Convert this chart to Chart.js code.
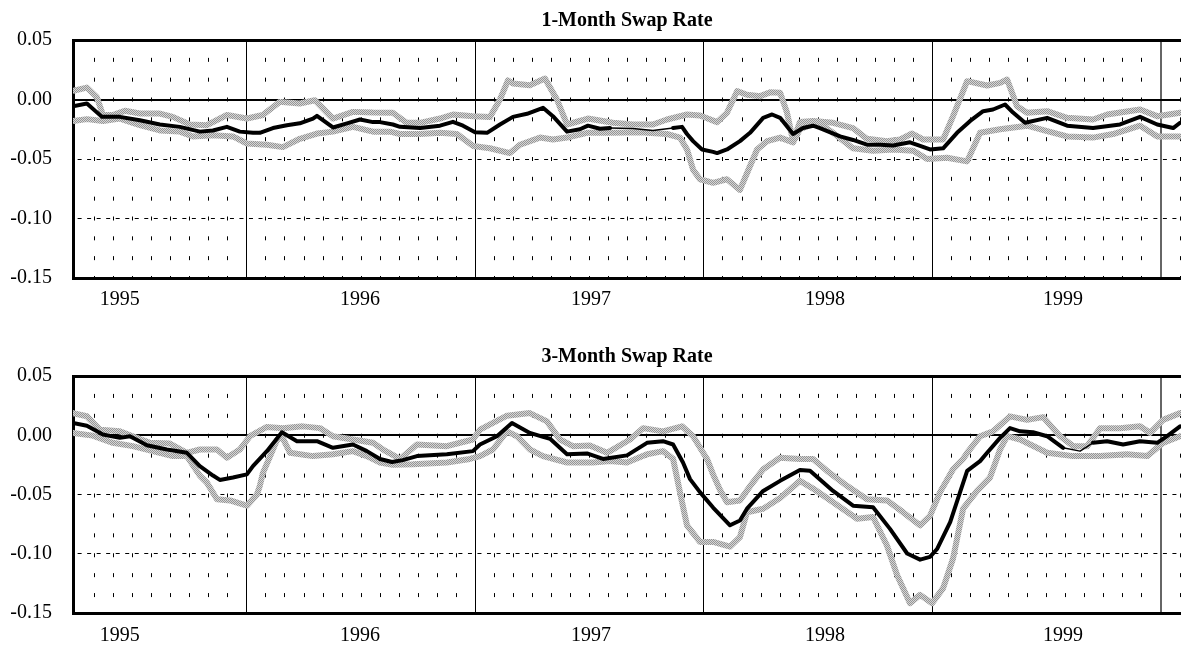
<!DOCTYPE html>
<html>
<head>
<meta charset="utf-8">
<script src="https://cdn.jsdelivr.net/npm/chart.js@4.4.0/dist/chart.umd.min.js"></script>
<style>
  html, body { margin: 0; padding: 0; background: #fff; }
  #wrap { position: relative; width: 1181px; height: 646px; }
  canvas { position: absolute; left: 0; }
  #c1 { top: 0; }
  #c2 { top: 336px; }
</style>
</head>
<body>
<div id="wrap">
  <canvas id="c1" width="1181" height="336"></canvas>
  <canvas id="c2" width="1181" height="310"></canvas>
</div>
<script>
// x values are months counted from Jan 1995 (12 = Jan 1996, 24 = Jan 1997 ...)
const xMin = 2.87;
const xMax = 61.05;
const yearLines = [12, 24, 36, 48, 60];
const yearLabels = ['1995', '1996', '1997', '1998', '1999'];
const yearLabelPos = [5.33, 17.94, 30.07, 42.36, 54.86];
const yTicks = [-0.15, -0.10, -0.05, 0, 0.05];

// ---- 1-Month Swap Rate ----
const oneMidX = [2.87, 3.60, 4.39, 5.33, 6.38, 7.43, 8.48, 9.53, 10.22, 10.95, 11.63, 12.32, 12.68, 13.37, 14.10, 14.78, 15.47, 15.68, 16.52, 17.26, 17.94, 18.62, 18.99, 19.67, 20.04, 21.09, 22.14, 22.82, 23.35, 23.98, 24.61, 25.29, 25.97, 26.71, 27.55, 28.07, 28.81, 29.49, 29.91, 30.54, 31.07, 32.27, 33.32, 34.38, 34.85, 35.11, 35.43, 35.90, 36.48, 36.69, 37.21, 37.89, 38.42, 39.11, 39.58, 40.00, 40.68, 41.20, 41.73, 42.09, 43.15, 43.83, 44.56, 45.25, 45.93, 46.82, 47.35, 47.87, 48.56, 49.29, 49.98, 50.66, 51.18, 51.81, 52.23, 52.86, 54.02, 55.07, 56.43, 57.85, 58.90, 59.80, 60.64, 61.00];
const oneMidY = [-0.0056, -0.0034, -0.0146, -0.0146, -0.0174, -0.021, -0.023, -0.027, -0.026, -0.023, -0.027, -0.028, -0.028, -0.024, -0.0216, -0.020, -0.016, -0.0137, -0.0235, -0.020, -0.0168, -0.019, -0.019, -0.021, -0.023, -0.024, -0.022, -0.0188, -0.022, -0.0275, -0.028, -0.021, -0.0146, -0.012, -0.007, -0.014, -0.027, -0.025, -0.022, -0.0246, -0.024, -0.0244, -0.026, -0.024, -0.023, -0.029, -0.035, -0.042, -0.044, -0.045, -0.042, -0.035, -0.028, -0.0154, -0.0126, -0.0154, -0.029, -0.024, -0.022, -0.024, -0.031, -0.034, -0.038, -0.038, -0.0387, -0.036, -0.039, -0.042, -0.041, -0.028, -0.018, -0.0098, -0.0084, -0.0042, -0.011, -0.0196, -0.0154, -0.022, -0.024, -0.021, -0.0146, -0.021, -0.024, -0.0196];

const oneUpX = [2.87, 3.60, 4.12, 4.44, 4.96, 5.59, 6.38, 7.43, 8.11, 9.01, 9.90, 10.95, 12.00, 12.84, 13.73, 14.78, 15.57, 16.52, 17.57, 18.62, 19.67, 20.40, 21.09, 22.14, 22.82, 23.87, 24.76, 25.29, 25.71, 25.97, 26.86, 27.65, 28.28, 28.81, 29.91, 31.22, 32.27, 33.32, 34.06, 35.11, 35.79, 36.69, 37.21, 37.74, 38.26, 38.95, 39.47, 40.00, 40.36, 40.68, 41.04, 41.73, 42.78, 43.83, 44.56, 45.61, 46.30, 46.93, 47.51, 48.56, 49.08, 49.82, 50.87, 51.55, 51.92, 52.44, 52.97, 54.02, 55.07, 56.43, 57.17, 58.90, 59.80, 61.00];
const oneUpY = [0.0073, 0.010, 0.002, -0.013, -0.013, -0.0095, -0.0118, -0.0118, -0.0146, -0.021, -0.0216, -0.013, -0.016, -0.013, -0.002, -0.0034, -0.0006, -0.016, -0.0104, -0.011, -0.0112, -0.0196, -0.0196, -0.016, -0.0126, -0.014, -0.0148, 0, 0.016, 0.0134, 0.012, 0.0176, 0, -0.021, -0.016, -0.0196, -0.021, -0.021, -0.0168, -0.0126, -0.0134, -0.019, -0.0112, 0.007, 0.004, 0.0028, 0.006, 0.0056, -0.011, -0.035, -0.019, -0.018, -0.0196, -0.024, -0.033, -0.035, -0.0336, -0.0286, -0.0336, -0.0336, -0.014, 0.0154, 0.0118, 0.014, 0.0168, -0.0056, -0.0112, -0.0098, -0.0154, -0.0168, -0.0126, -0.0084, -0.014, -0.0112];

const oneLoX = [2.87, 3.60, 4.44, 5.33, 6.38, 7.43, 8.48, 9.16, 10.22, 11.27, 12.00, 13.05, 13.89, 14.78, 15.68, 16.52, 17.57, 18.62, 19.51, 20.04, 21.09, 22.14, 23.03, 23.87, 24.76, 25.81, 26.34, 27.39, 28.07, 28.81, 29.86, 31.22, 32.64, 34.06, 34.74, 35.11, 35.43, 35.79, 36.48, 37.21, 37.89, 38.26, 38.79, 39.32, 40.00, 40.68, 41.04, 41.94, 42.78, 43.83, 44.88, 45.93, 46.98, 47.72, 48.77, 49.82, 50.50, 51.55, 52.97, 54.02, 55.07, 56.43, 57.48, 58.90, 59.80, 61.00];
const oneLoY = [-0.018, -0.0165, -0.018, -0.016, -0.0216, -0.026, -0.027, -0.031, -0.030, -0.031, -0.037, -0.038, -0.040, -0.033, -0.0286, -0.027, -0.023, -0.027, -0.027, -0.029, -0.029, -0.028, -0.029, -0.039, -0.041, -0.045, -0.038, -0.032, -0.0336, -0.032, -0.028, -0.028, -0.0275, -0.029, -0.032, -0.042, -0.059, -0.067, -0.070, -0.067, -0.076, -0.062, -0.042, -0.035, -0.032, -0.036, -0.025, -0.019, -0.028, -0.041, -0.043, -0.042, -0.043, -0.050, -0.049, -0.052, -0.028, -0.025, -0.022, -0.0266, -0.031, -0.032, -0.029, -0.022, -0.031, -0.031];

// ---- 3-Month Swap Rate ----
const threeMidX = [2.87, 3.60, 4.44, 5.33, 5.86, 6.75, 7.80, 8.85, 9.53, 10.22, 10.58, 11.27, 12.00, 12.32, 13.05, 13.84, 14.63, 15.68, 16.52, 17.57, 18.30, 18.99, 19.62, 20.19, 20.93, 22.50, 23.87, 24.24, 25.13, 25.92, 26.86, 27.55, 27.92, 28.81, 29.86, 30.70, 31.96, 33.01, 33.85, 34.38, 34.90, 35.27, 35.79, 36.48, 37.37, 37.89, 38.26, 39.11, 40.00, 41.04, 41.57, 42.78, 43.83, 44.88, 45.77, 46.67, 47.35, 47.87, 48.24, 48.93, 49.45, 49.82, 50.50, 50.87, 51.55, 52.07, 52.60, 53.28, 54.02, 54.86, 55.75, 56.43, 57.17, 58.01, 58.90, 59.80, 60.32, 61.00];
const threeMidY = [0.0103, 0.008, 0.0006, -0.0022, -0.0008, -0.0084, -0.012, -0.0148, -0.026, -0.034, -0.0377, -0.0357, -0.033, -0.026, -0.0134, 0.0025, -0.005, -0.005, -0.0106, -0.0078, -0.0134, -0.020, -0.0226, -0.021, -0.0176, -0.016, -0.0134, -0.0078, -0.0008, 0.0103, 0.002, -0.0014, -0.003, -0.016, -0.0153, -0.020, -0.017, -0.0064, -0.005, -0.0078, -0.023, -0.037, -0.048, -0.061, -0.076, -0.072, -0.062, -0.047, -0.0385, -0.0293, -0.030, -0.047, -0.0594, -0.0608, -0.079, -0.0998, -0.105, -0.1026, -0.096, -0.0733, -0.048, -0.030, -0.0218, -0.0148, -0.0022, 0.006, 0.0033, 0.0025, -0.0008, -0.0106, -0.0134, -0.0064, -0.005, -0.0078, -0.005, -0.0064, -0.0008, 0.0075];

const threeUpX = [2.87, 3.60, 4.28, 5.33, 6.01, 6.91, 7.96, 8.85, 9.53, 10.43, 10.95, 11.63, 12.16, 13.05, 13.89, 14.94, 15.84, 16.52, 17.57, 18.62, 19.25, 20.04, 20.93, 22.50, 23.87, 24.24, 25.66, 26.86, 27.76, 28.44, 29.12, 30.01, 30.91, 32.12, 32.80, 33.85, 34.85, 35.43, 36.16, 36.48, 36.84, 37.21, 37.89, 38.42, 39.11, 40.00, 41.04, 41.73, 42.46, 43.51, 44.56, 45.61, 46.46, 47.35, 47.87, 48.40, 49.08, 49.61, 49.82, 50.50, 51.18, 52.07, 52.97, 53.81, 54.70, 55.39, 56.12, 56.80, 57.85, 58.90, 59.43, 60.11, 61.00];
const threeUpY = [0.0187, 0.016, 0.0047, 0.0033, -0.0008, -0.0064, -0.007, -0.0148, -0.012, -0.012, -0.019, -0.012, -0.0008, 0.007, 0.006, 0.0075, 0.006, -0.0008, -0.0036, -0.0064, -0.013, -0.020, -0.0078, -0.0092, -0.0036, 0.0047, 0.0165, 0.0187, 0.0117, -0.0036, -0.0092, -0.0086, -0.0148, -0.0036, 0.006, 0.0033, 0.0075, -0.0008, -0.020, -0.033, -0.046, -0.0566, -0.055, -0.043, -0.0287, -0.019, -0.020, -0.020, -0.030, -0.0427, -0.054, -0.055, -0.065, -0.076, -0.068, -0.048, -0.0287, -0.020, -0.0148, -0.0008, 0.0033, 0.0159, 0.013, 0.0153, -0.0008, -0.0092, -0.0092, 0.006, 0.006, 0.0075, 0.002, 0.013, 0.0187];

const threeLoX = [2.87, 3.91, 4.96, 6.01, 7.06, 8.11, 8.85, 9.53, 9.90, 10.43, 11.11, 12.00, 12.53, 12.68, 12.84, 13.58, 13.84, 14.26, 15.47, 16.52, 17.57, 18.30, 18.99, 19.67, 20.72, 22.50, 23.71, 24.24, 24.92, 25.66, 26.18, 26.86, 27.55, 28.81, 30.17, 31.07, 31.96, 33.01, 33.85, 34.38, 34.74, 35.11, 35.79, 36.48, 37.37, 37.89, 38.26, 39.11, 40.00, 41.04, 41.73, 42.78, 44.04, 44.88, 45.61, 46.14, 46.82, 47.35, 47.98, 48.56, 49.08, 49.61, 50.34, 51.02, 51.55, 51.92, 52.60, 54.02, 55.39, 56.80, 58.22, 59.27, 60.11, 61.00];
const threeLoY = [0.002, -0.0003, -0.0064, -0.0092, -0.0134, -0.0176, -0.0176, -0.034, -0.040, -0.054, -0.055, -0.0594, -0.050, -0.0427, -0.032, -0.004, -0.001, -0.0148, -0.0176, -0.016, -0.0134, -0.0176, -0.023, -0.025, -0.0245, -0.023, -0.020, -0.0176, -0.012, 0.0033, -0.0008, -0.012, -0.0176, -0.023, -0.023, -0.0218, -0.023, -0.016, -0.0134, -0.020, -0.048, -0.076, -0.090, -0.090, -0.094, -0.086, -0.065, -0.062, -0.053, -0.0385, -0.045, -0.0566, -0.0705, -0.069, -0.093, -0.118, -0.1417, -0.1347, -0.1417, -0.129, -0.104, -0.062, -0.047, -0.0357, -0.012, -0.0008, -0.0036, -0.0148, -0.0176, -0.0176, -0.016, -0.0176, -0.0064, -0.0008];

// stretches where the black line is only drawn thin in the original
const oneThin = [[31.07, 34.38]];
const threeThin = [[54.86, 56.43]];

// ==================================
const serif = 'Liberation Serif';

function pts(xs, ys) {
  return xs.map((x, i) => ({ x: x, y: ys[i] }));
}

// monthly dotted grid (no mark before the first full month of the plot)
function monthTicks() {
  const t = [];
  for (let m = 4; m <= 61; m++) {
    if (m % 12 !== 0) t.push({ value: m });
  }
  return t;
}

// speckled grey like the printed bands
function greyPattern(ctx) {
  const p = document.createElement('canvas');
  p.width = 2;
  p.height = 2;
  const pc = p.getContext('2d');
  pc.fillStyle = '#d6d6d6';
  pc.fillRect(0, 0, 2, 2);
  pc.fillStyle = '#959595';
  pc.fillRect(0, 0, 1, 1);
  pc.fillRect(1, 1, 1, 1);
  return ctx.createPattern(p, 'repeat');
}

function makeChart(id, title, mid, up, lo, thin, bottomSpace, labelPad, rowGap) {
  const ctx = document.getElementById(id).getContext('2d');
  const grey = greyPattern(ctx);

  return new Chart(ctx, {
    type: 'line',
    data: {
      datasets: [
        {
          data: pts(mid[0], mid[1]),
          borderColor: '#000',
          borderWidth: 4,
          xAxisID: 'x',
          yAxisID: 'y',
          segment: {
            borderWidth: c =>
              thin.some(r => c.p0.parsed.x >= r[0] && c.p1.parsed.x <= r[1]) ? 1.5 : undefined,
          },
        },
        { data: pts(up[0], up[1]), borderColor: grey, borderWidth: 6, xAxisID: 'x', yAxisID: 'y' },
        { data: pts(lo[0], lo[1]), borderColor: grey, borderWidth: 6, xAxisID: 'x', yAxisID: 'y' },
      ],
    },
    options: {
      responsive: false,
      animation: false,
      devicePixelRatio: 1,
      layout: { padding: 0 },
      elements: {
        point: { radius: 0 },
        line: { tension: 0, borderJoinStyle: 'round', borderCapStyle: 'round' },
      },
      plugins: {
        legend: { display: false },
        tooltip: { enabled: false },
        title: {
          display: true,
          text: title,
          fullSize: false,
          color: '#000',
          font: { family: serif, size: 20, weight: 'bold' },
          padding: { top: 9, bottom: 7 },
        },
      },
      scales: {
        // monthly dotted grid + bottom axis line
        x: {
          type: 'linear',
          position: 'bottom',
          min: xMin,
          max: xMax,
          weight: 0,
          afterBuildTicks: s => { s.ticks = monthTicks(); },
          afterFit: s => { s.height = 0; },
          ticks: { display: false },
          grid: { color: '#000', lineWidth: 1, drawTicks: false },
          border: { display: true, color: '#000', width: 3, dash: [4, rowGap - 4], dashOffset: 2 },
        },
        // solid year separators
        xYear: {
          type: 'linear',
          position: 'bottom',
          min: xMin,
          max: xMax,
          weight: 1,
          afterBuildTicks: s => { s.ticks = yearLines.map(v => ({ value: v })); },
          afterFit: s => { s.height = 0; },
          ticks: { display: false },
          grid: {
            color: c => (c.tick && c.tick.value === 60 ? '#666' : '#000'),
            lineWidth: c => (c.tick && c.tick.value === 60 ? 2 : 1),
            drawTicks: false,
          },
          border: { display: false },
        },
        // year labels
        xLab: {
          type: 'linear',
          position: 'bottom',
          min: xMin,
          max: xMax,
          weight: 2,
          afterBuildTicks: s => { s.ticks = yearLabelPos.map(v => ({ value: v })); },
          afterFit: s => { s.height = bottomSpace; },
          ticks: {
            autoSkip: false,
            maxRotation: 0,
            padding: labelPad,
            color: '#000',
            font: { family: serif, size: 20 },
            callback: (v, i) => yearLabels[i],
          },
          grid: { display: false, drawTicks: false },
          border: { display: false },
        },
        y: {
          type: 'linear',
          position: 'left',
          min: -0.15,
          max: 0.05,
          weight: 0,
          afterBuildTicks: s => { s.ticks = yTicks.map(v => ({ value: v })); },
          afterFit: s => { s.width = 73; },
          ticks: {
            autoSkip: false,
            padding: 21,
            color: '#000',
            font: { family: serif, size: 20 },
            callback: v => v.toFixed(2),
          },
          grid: {
            color: c => (c.tick && (Math.abs(c.tick.value + 0.05) < 1e-9 || Math.abs(c.tick.value + 0.10) < 1e-9) ? '#000' : 'rgba(0,0,0,0)'),
            lineWidth: 1,
            drawTicks: false,
          },
          border: { display: true, color: '#000', width: 3, dash: [4, 5.52], dashOffset: 6.9 },
        },
        // zero line and top frame
        yRef: {
          type: 'linear',
          position: 'left',
          min: -0.15,
          max: 0.05,
          weight: 1,
          afterBuildTicks: s => { s.ticks = [{ value: 0 }, { value: 0.05 }]; },
          afterFit: s => { s.width = 0; },
          ticks: { display: false },
          grid: {
            color: '#000',
            lineWidth: c => (c.tick && c.tick.value > 0.01 ? 3 : 2),
            drawTicks: false,
          },
          border: { display: false },
        },
      },
    },
  });
}

makeChart('c1', '1-Month Swap Rate', [oneMidX, oneMidY], [oneUpX, oneUpY], [oneLoX, oneLoY], oneThin, 58, 10, 238 / 12);
makeChart('c2', '3-Month Swap Rate', [threeMidX, threeMidY], [threeUpX, threeUpY], [threeLoX, threeLoY], threeThin, 31, 11, 239 / 12);
</script>
</body>
</html>
